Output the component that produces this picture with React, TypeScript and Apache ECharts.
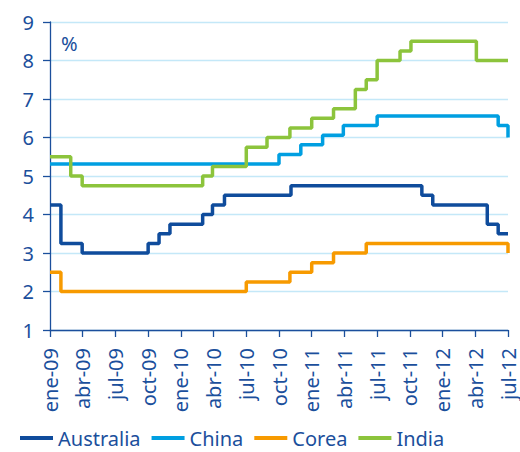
import React, { useEffect, useRef } from "react";
import * as echarts from "echarts";

const tickLabels = ["ene-09", "abr-09", "jul-09", "oct-09", "ene-10", "abr-10", "jul-10", "oct-10", "ene-11", "abr-11", "jul-11", "oct-11", "ene-12", "abr-12", "jul-12"];

// months elapsed since January 2009 at which each rate takes effect
const australiaMonths = [0, 1.0, 2.95, 9.0, 10.0, 11.0, 14.0, 14.9, 16.0, 22.1, 34.1, 35.1, 40.1, 41.1, 42];
const australiaRates = [4.25, 3.25, 3.0, 3.25, 3.5, 3.75, 4.0, 4.25, 4.5, 4.75, 4.5, 4.25, 3.75, 3.5, 3.5];

const chinaMonths = [0, 21.0, 23.0, 25.0, 26.9, 30.0, 41.1, 42];
const chinaRates = [5.31, 5.56, 5.81, 6.06, 6.31, 6.56, 6.31, 6.0];

const coreaMonths = [0, 1.0, 18.0, 22.0, 24.0, 26.0, 29.0, 42];
const coreaRates = [2.5, 2.0, 2.25, 2.5, 2.75, 3.0, 3.25, 3.0];

const indiaMonths = [0, 1.9, 2.95, 14.0, 14.9, 18.0, 19.9, 22.0, 24.0, 26.0, 28.0, 29.0, 30.0, 32.1, 33.1, 39.1, 42];
const indiaRates = [5.5, 5.0, 4.75, 5.0, 5.25, 5.75, 6.0, 6.25, 6.5, 6.75, 7.25, 7.5, 8.0, 8.25, 8.5, 8.0, 8.0];

const seriesNames = ["Australia", "China", "Corea", "India"];
const seriesColors = ["#0f4c9c", "#009fe1", "#f79a00", "#8cc43c"];
const textColor = "#1b4f9c";
const font = "Noto Sans";

const zip = (xs: number[], ys: number[]) => xs.map((x, i) => [x, ys[i]]);

export default function App() {
  const ref = useRef<HTMLDivElement>(null);
  useEffect(() => {
    document.body.style.margin = "0";
    if (!ref.current) return;
    const chart = echarts.init(ref.current, null, { renderer: "svg" });
    const datasets = [
      zip(australiaMonths, australiaRates),
      zip(chinaMonths, chinaRates),
      zip(coreaMonths, coreaRates),
      zip(indiaMonths, indiaRates),
    ];
    chart.setOption({
      animation: false,
      backgroundColor: "#ffffff",
      textStyle: { fontFamily: font },
      grid: { left: 50, right: 12, top: 22, bottom: 122, containLabel: false },
      graphic: [
        {
          type: "text",
          left: 61,
          top: 33,
          style: { text: "%", fontSize: 20, fill: textColor, fontFamily: font },
        },
      ],
      legend: {
        left: 20,
        top: 428,
        padding: 0,
        icon: "rect",
        itemWidth: 33,
        itemHeight: 4,
        itemGap: 11,
        textStyle: { fontSize: 20, color: textColor, fontFamily: font },
        data: seriesNames,
      },
      xAxis: {
        type: "value",
        min: 0,
        max: 42,
        interval: 3,
        axisLine: { show: true, lineStyle: { color: textColor, width: 1.3 } },
        axisTick: { show: true, length: 7, lineStyle: { color: textColor, width: 1.3 } },
        splitLine: { show: false },
        axisLabel: {
          rotate: 90,
          margin: 18,
          fontSize: 20,
          color: textColor,
          fontFamily: font,
          formatter: (v: number) => tickLabels[Math.round(v / 3)] ?? "",
        },
      },
      yAxis: {
        type: "value",
        min: 1,
        max: 9,
        interval: 1,
        axisLine: { show: true, lineStyle: { color: textColor, width: 1.3 } },
        axisTick: { show: true, length: 7, lineStyle: { color: textColor, width: 1.3 } },
        splitLine: { show: true, lineStyle: { color: "#c4e8f8", width: 1.3 } },
        axisLabel: { margin: 16, fontSize: 20, color: textColor, fontFamily: font },
      },
      series: seriesNames.map((name, i) => ({
        name,
        type: "line",
        step: "end",
        data: datasets[i],
        showSymbol: false,
        symbol: "none",
        color: seriesColors[i],
        lineStyle: { color: seriesColors[i], width: 3.5 },
      })),
    });
    return () => chart.dispose();
  }, []);
  return <div ref={ref} style={{ width: 520, height: 452 }} />;
}
